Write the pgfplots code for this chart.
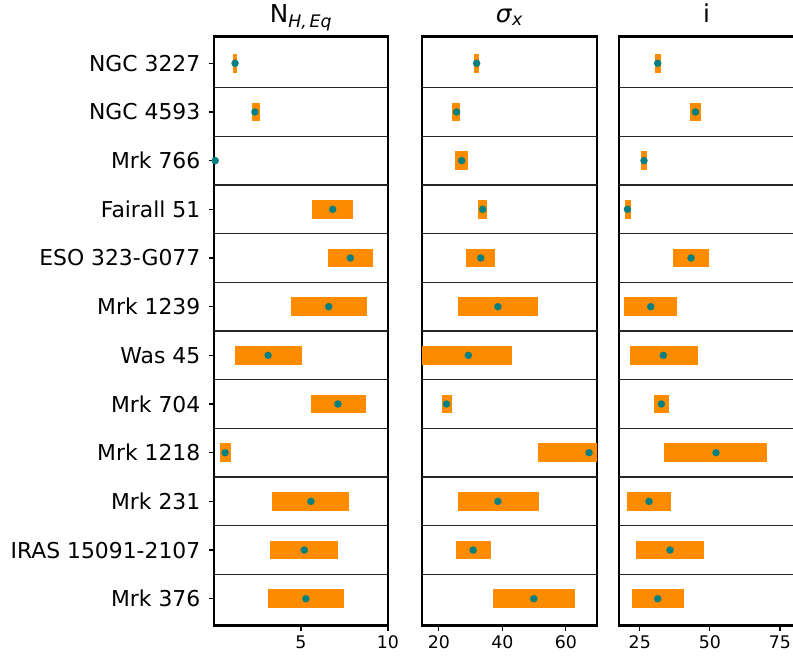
\documentclass[border=0pt]{standalone}
\usepackage{pgfplots}
\pgfplotsset{compat=1.18}
\usepackage{pgfplotstable}
\usepackage{fontspec}
\setmainfont{DejaVu Sans}

\definecolor{barorange}{HTML}{FF8C00}
\definecolor{dotteal}{HTML}{008080}

% row: 0 = NGC 3227 (top) ... 11 = Mrk 376 (bottom)
% v = best value, lo/hi = range shown as the bar
\pgfplotstableread{
r v lo hi
0 1.21 1.12 1.35
1 2.35 2.16 2.63
2 0.07 0.07 0.07
3 6.82 5.66 7.99
4 7.84 6.57 9.11
5 6.59 4.43 8.79
6 3.11 1.18 5.06
7 7.12 5.57 8.73
8 0.64 0.34 0.98
9 5.57 3.35 7.77
10 5.19 3.24 7.12
11 5.28 3.11 7.46
}\nhtab

\pgfplotstableread{
r v lo hi
0 31.9 31.15 32.63
1 25.6 24.3 26.8
2 27.2 25.05 29.06
3 33.8 32.4 35.25
4 33.2 28.7 37.7
5 38.6 26.1 51.2
6 29.3 14.0 42.95
7 22.4 20.85 24.0
8 67.3 51.2 72.0
9 38.6 25.9 51.4
10 30.8 25.3 36.4
11 49.9 37.1 62.8
}\sigmatab

\pgfplotstableread{
r v lo hi
0 31.4 30.5 32.5
1 44.85 42.8 46.85
2 26.5 25.6 27.5
3 20.6 19.65 21.7
4 43.3 36.8 49.8
5 28.9 19.3 38.4
6 33.4 21.5 45.6
7 32.7 30.0 35.6
8 52.2 33.7 70.5
9 28.3 20.5 36.05
10 35.8 23.8 47.8
11 31.4 22.15 40.6
}\inctab

\pgfplotsset{
  panel/.style={
    scale only axis,
    height=441.75pt,
    ymin=-0.55, ymax=11.55, y dir=reverse,
    axis line style={line width=1.6pt},
    tick pos=left, tick align=outside,
    major tick length=3.75pt,
    tick style={black, line width=0.9pt},
    extra y ticks={0.5,1.5,...,10.5},
    extra y tick labels={},
    extra y tick style={grid=major, major tick length=0pt},
    major grid style={black!85, line width=0.9pt},
    /pgf/number format/assume math mode=true,
    xticklabel style={font=\fontsize{13}{15}\selectfont, yshift=-0.5pt},
    title style={at={(0.5,1)}, anchor=base, yshift=4.5pt,
                 font=\fontsize{18.5}{22}\selectfont},
    clip=true,
  },
  rangebars/.style={only marks, mark=none, forget plot,
    error bars/.cd, x dir=both, x explicit, error mark=none,
    error bar style={draw=barorange, line width=14pt}},
  bestdots/.style={only marks, color=dotteal, mark=*, mark size=2.7pt,
    mark options={solid, fill=dotteal, draw=dotteal, line width=0.1pt}},
}

\begin{document}
\begin{tikzpicture}
% column density
\begin{axis}[panel, at={(0pt,0pt)}, anchor=south west, width=130.5pt,
  xmin=0, xmax=10, xtick={5,10},
  ytick={0,...,11},
  yticklabels={NGC 3227, NGC 4593, Mrk 766, Fairall 51, ESO 323-G077,
    Mrk 1239, Was 45, Mrk 704, Mrk 1218, Mrk 231, IRAS 15091-2107, Mrk 376},
  yticklabel style={font=\fontsize{16.4}{19}\selectfont, xshift=-3pt},
  title={N\textsubscript{\itshape H,\,Eq}}]
\addplot[rangebars] table[x=v, y=r,
  x error plus expr=\thisrow{hi}-\thisrow{v},
  x error minus expr=\thisrow{v}-\thisrow{lo}] {\nhtab};
\addplot[bestdots] table[x=v, y=r] {\nhtab};
\end{axis}
% sigma_x
\begin{axis}[panel, at={(156pt,0pt)}, anchor=south west, width=131.25pt,
  xmin=14.7, xmax=69.8, xtick={20,40,60}, ytick=\empty,
  title={\textit{σ}\textsubscript{\itshape x}}]
\addplot[rangebars] table[x=v, y=r,
  x error plus expr=\thisrow{hi}-\thisrow{v},
  x error minus expr=\thisrow{v}-\thisrow{lo}] {\sigmatab};
\addplot[bestdots] table[x=v, y=r] {\sigmatab};
\end{axis}
% inclination
\begin{axis}[panel, at={(303.75pt,0pt)}, anchor=south west, width=131.25pt,
  xmin=17.6, xmax=80, xtick={25,50,75}, ytick=\empty,
  title={i}]
\addplot[rangebars] table[x=v, y=r,
  x error plus expr=\thisrow{hi}-\thisrow{v},
  x error minus expr=\thisrow{v}-\thisrow{lo}] {\inctab};
\addplot[bestdots] table[x=v, y=r] {\inctab};
\end{axis}
\pgfresetboundingbox
\path[use as bounding box] (-160.5pt,-24.375pt) rectangle (434.25pt,469.125pt);
\end{tikzpicture}
\end{document}
